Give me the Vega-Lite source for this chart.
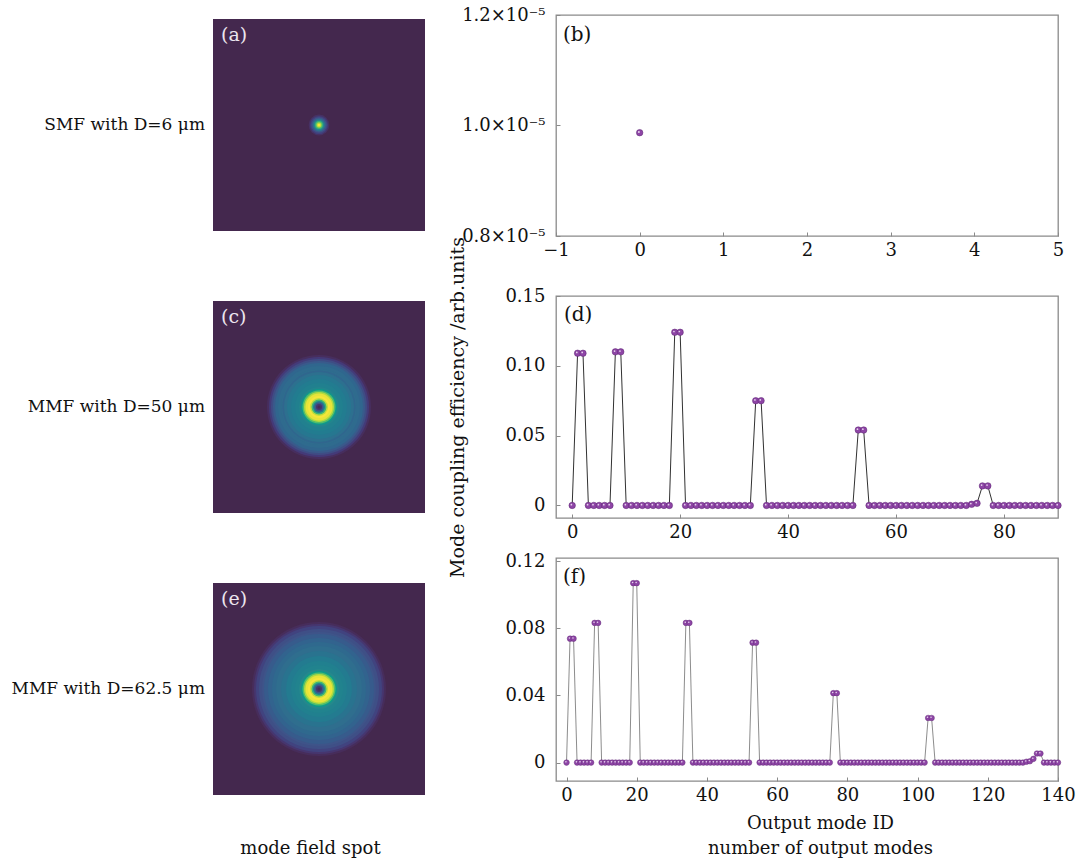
{
  "$schema": "https://vega.github.io/schema/vega-lite/v6.json",
  "background": "white",
  "padding": {"left": 11, "top": 5, "right": 5, "bottom": 5},
  "columns": 2,
  "bounds": "flush",
  "align": "each",
  "spacing": {"row": 40, "column": 131},
  "config": {
    "font": "DejaVu Serif",
    "view": {"stroke": "#8a8a8a", "strokeWidth": 1.3},
    "axis": {"labelFont": "DejaVu Serif", "labelFontSize": 18, "labelColor": "#111111", "titleFont": "DejaVu Serif", "titleFontSize": 19, "titleFontWeight": "normal", "titleColor": "#111111", "grid": false, "domain": false, "tickColor": "#8a8a8a", "tickSize": -4, "tickWidth": 1, "labelFlush": false, "labelOverlap": false},
    "axisX": {"labelPadding": 9},
    "axisY": {"labelPadding": 15},
    "text": {"font": "DejaVu Serif"}
  },
  "datasets": {
    "rings": [
      {"img": "a", "r": 0.098, "v": 0.08}, {"img": "a", "r": 0.086, "v": 0.18}, {"img": "a", "r": 0.074, "v": 0.3}, {"img": "a", "r": 0.061, "v": 0.45}, {"img": "a", "r": 0.049, "v": 0.6}, {"img": "a", "r": 0.037, "v": 0.75}, {"img": "a", "r": 0.025, "v": 0.88}, {"img": "a", "r": 0.015, "v": 1.0},
      {"img": "c", "r": 0.4906, "v": 0.06}, {"img": "c", "r": 0.4717, "v": 0.15}, {"img": "c", "r": 0.4528, "v": 0.25}, {"img": "c", "r": 0.434, "v": 0.33}, {"img": "c", "r": 0.4151, "v": 0.4}, {"img": "c", "r": 0.3868, "v": 0.43}, {"img": "c", "r": 0.3585, "v": 0.44}, {"img": "c", "r": 0.3443, "v": 0.4}, {"img": "c", "r": 0.3302, "v": 0.46}, {"img": "c", "r": 0.3019, "v": 0.5}, {"img": "c", "r": 0.2642, "v": 0.53}, {"img": "c", "r": 0.2264, "v": 0.55}, {"img": "c", "r": 0.1887, "v": 0.58}, {"img": "c", "r": 0.1698, "v": 0.65}, {"img": "c", "r": 0.1557, "v": 0.78}, {"img": "c", "r": 0.1415, "v": 0.9}, {"img": "c", "r": 0.1274, "v": 0.98}, {"img": "c", "r": 0.1038, "v": 1.0}, {"img": "c", "r": 0.0849, "v": 0.92}, {"img": "c", "r": 0.0708, "v": 0.75}, {"img": "c", "r": 0.0566, "v": 0.55}, {"img": "c", "r": 0.0425, "v": 0.3}, {"img": "c", "r": 0.0283, "v": 0.12}, {"img": "c", "r": 0.0142, "v": 0.03},
      {"img": "e", "r": 0.6321, "v": 0.05}, {"img": "e", "r": 0.6132, "v": 0.12}, {"img": "e", "r": 0.5943, "v": 0.2}, {"img": "e", "r": 0.566, "v": 0.27}, {"img": "e", "r": 0.5377, "v": 0.3}, {"img": "e", "r": 0.5189, "v": 0.34}, {"img": "e", "r": 0.4811, "v": 0.38}, {"img": "e", "r": 0.4434, "v": 0.42}, {"img": "e", "r": 0.4057, "v": 0.45}, {"img": "e", "r": 0.3585, "v": 0.48}, {"img": "e", "r": 0.3113, "v": 0.52}, {"img": "e", "r": 0.2642, "v": 0.55}, {"img": "e", "r": 0.2264, "v": 0.57}, {"img": "e", "r": 0.1887, "v": 0.6}, {"img": "e", "r": 0.1698, "v": 0.66}, {"img": "e", "r": 0.1557, "v": 0.78}, {"img": "e", "r": 0.1415, "v": 0.9}, {"img": "e", "r": 0.1274, "v": 0.98}, {"img": "e", "r": 0.1038, "v": 1.0}, {"img": "e", "r": 0.0849, "v": 0.92}, {"img": "e", "r": 0.0708, "v": 0.75}, {"img": "e", "r": 0.0566, "v": 0.55}, {"img": "e", "r": 0.0425, "v": 0.3}, {"img": "e", "r": 0.0283, "v": 0.12}, {"img": "e", "r": 0.0142, "v": 0.03}
    ],
    "b": [{"mode": 0, "eff": 0.00000987}],
    "d": [
      {"mode":0,"eff":0},{"mode":1,"eff":0.109},{"mode":2,"eff":0.109},{"mode":3,"eff":0},{"mode":4,"eff":0},{"mode":5,"eff":0},{"mode":6,"eff":0},{"mode":7,"eff":0},{"mode":8,"eff":0.110},{"mode":9,"eff":0.110},
      {"mode":10,"eff":0},{"mode":11,"eff":0},{"mode":12,"eff":0},{"mode":13,"eff":0},{"mode":14,"eff":0},{"mode":15,"eff":0},{"mode":16,"eff":0},{"mode":17,"eff":0},{"mode":18,"eff":0},{"mode":19,"eff":0.124},
      {"mode":20,"eff":0.124},{"mode":21,"eff":0},{"mode":22,"eff":0},{"mode":23,"eff":0},{"mode":24,"eff":0},{"mode":25,"eff":0},{"mode":26,"eff":0},{"mode":27,"eff":0},{"mode":28,"eff":0},{"mode":29,"eff":0},
      {"mode":30,"eff":0},{"mode":31,"eff":0},{"mode":32,"eff":0},{"mode":33,"eff":0},{"mode":34,"eff":0.075},{"mode":35,"eff":0.075},{"mode":36,"eff":0},{"mode":37,"eff":0},{"mode":38,"eff":0},{"mode":39,"eff":0},
      {"mode":40,"eff":0},{"mode":41,"eff":0},{"mode":42,"eff":0},{"mode":43,"eff":0},{"mode":44,"eff":0},{"mode":45,"eff":0},{"mode":46,"eff":0},{"mode":47,"eff":0},{"mode":48,"eff":0},{"mode":49,"eff":0},
      {"mode":50,"eff":0},{"mode":51,"eff":0},{"mode":52,"eff":0},{"mode":53,"eff":0.054},{"mode":54,"eff":0.054},{"mode":55,"eff":0},{"mode":56,"eff":0},{"mode":57,"eff":0},{"mode":58,"eff":0},{"mode":59,"eff":0},
      {"mode":60,"eff":0},{"mode":61,"eff":0},{"mode":62,"eff":0},{"mode":63,"eff":0},{"mode":64,"eff":0},{"mode":65,"eff":0},{"mode":66,"eff":0},{"mode":67,"eff":0},{"mode":68,"eff":0},{"mode":69,"eff":0},
      {"mode":70,"eff":0},{"mode":71,"eff":0},{"mode":72,"eff":0},{"mode":73,"eff":0},{"mode":74,"eff":0.0008},{"mode":75,"eff":0.0015},{"mode":76,"eff":0.014},{"mode":77,"eff":0.014},{"mode":78,"eff":0},{"mode":79,"eff":0},
      {"mode":80,"eff":0},{"mode":81,"eff":0},{"mode":82,"eff":0},{"mode":83,"eff":0},{"mode":84,"eff":0},{"mode":85,"eff":0},{"mode":86,"eff":0},{"mode":87,"eff":0},{"mode":88,"eff":0},{"mode":89,"eff":0},
      {"mode":90,"eff":0}
    ],
    "f": [
      {"mode":0,"eff":0},{"mode":1,"eff":0.0739},{"mode":2,"eff":0.0739},{"mode":3,"eff":0},{"mode":4,"eff":0},{"mode":5,"eff":0},{"mode":6,"eff":0},{"mode":7,"eff":0},{"mode":8,"eff":0.0833},{"mode":9,"eff":0.0833},
      {"mode":10,"eff":0},{"mode":11,"eff":0},{"mode":12,"eff":0},{"mode":13,"eff":0},{"mode":14,"eff":0},{"mode":15,"eff":0},{"mode":16,"eff":0},{"mode":17,"eff":0},{"mode":18,"eff":0},{"mode":19,"eff":0.107},
      {"mode":20,"eff":0.107},{"mode":21,"eff":0},{"mode":22,"eff":0},{"mode":23,"eff":0},{"mode":24,"eff":0},{"mode":25,"eff":0},{"mode":26,"eff":0},{"mode":27,"eff":0},{"mode":28,"eff":0},{"mode":29,"eff":0},
      {"mode":30,"eff":0},{"mode":31,"eff":0},{"mode":32,"eff":0},{"mode":33,"eff":0},{"mode":34,"eff":0.0833},{"mode":35,"eff":0.0833},{"mode":36,"eff":0},{"mode":37,"eff":0},{"mode":38,"eff":0},{"mode":39,"eff":0},
      {"mode":40,"eff":0},{"mode":41,"eff":0},{"mode":42,"eff":0},{"mode":43,"eff":0},{"mode":44,"eff":0},{"mode":45,"eff":0},{"mode":46,"eff":0},{"mode":47,"eff":0},{"mode":48,"eff":0},{"mode":49,"eff":0},
      {"mode":50,"eff":0},{"mode":51,"eff":0},{"mode":52,"eff":0},{"mode":53,"eff":0.0715},{"mode":54,"eff":0.0715},{"mode":55,"eff":0},{"mode":56,"eff":0},{"mode":57,"eff":0},{"mode":58,"eff":0},{"mode":59,"eff":0},
      {"mode":60,"eff":0},{"mode":61,"eff":0},{"mode":62,"eff":0},{"mode":63,"eff":0},{"mode":64,"eff":0},{"mode":65,"eff":0},{"mode":66,"eff":0},{"mode":67,"eff":0},{"mode":68,"eff":0},{"mode":69,"eff":0},
      {"mode":70,"eff":0},{"mode":71,"eff":0},{"mode":72,"eff":0},{"mode":73,"eff":0},{"mode":74,"eff":0},{"mode":75,"eff":0},{"mode":76,"eff":0.0414},{"mode":77,"eff":0.0414},{"mode":78,"eff":0},{"mode":79,"eff":0},
      {"mode":80,"eff":0},{"mode":81,"eff":0},{"mode":82,"eff":0},{"mode":83,"eff":0},{"mode":84,"eff":0},{"mode":85,"eff":0},{"mode":86,"eff":0},{"mode":87,"eff":0},{"mode":88,"eff":0},{"mode":89,"eff":0},
      {"mode":90,"eff":0},{"mode":91,"eff":0},{"mode":92,"eff":0},{"mode":93,"eff":0},{"mode":94,"eff":0},{"mode":95,"eff":0},{"mode":96,"eff":0},{"mode":97,"eff":0},{"mode":98,"eff":0},{"mode":99,"eff":0},
      {"mode":100,"eff":0},{"mode":101,"eff":0},{"mode":102,"eff":0},{"mode":103,"eff":0.0266},{"mode":104,"eff":0.0266},{"mode":105,"eff":0},{"mode":106,"eff":0},{"mode":107,"eff":0},{"mode":108,"eff":0},{"mode":109,"eff":0},
      {"mode":110,"eff":0},{"mode":111,"eff":0},{"mode":112,"eff":0},{"mode":113,"eff":0},{"mode":114,"eff":0},{"mode":115,"eff":0},{"mode":116,"eff":0},{"mode":117,"eff":0},{"mode":118,"eff":0},{"mode":119,"eff":0},
      {"mode":120,"eff":0},{"mode":121,"eff":0},{"mode":122,"eff":0},{"mode":123,"eff":0},{"mode":124,"eff":0},{"mode":125,"eff":0},{"mode":126,"eff":0},{"mode":127,"eff":0},{"mode":128,"eff":0},{"mode":129,"eff":0},
      {"mode":130,"eff":0},{"mode":131,"eff":0.0005},{"mode":132,"eff":0.0008},{"mode":133,"eff":0.0022},{"mode":134,"eff":0.0054},{"mode":135,"eff":0.0054},{"mode":136,"eff":0},{"mode":137,"eff":0},{"mode":138,"eff":0},{"mode":139,"eff":0},
      {"mode":140,"eff":0}
    ]
  },
  "concat": [
    {
      "width": 212, "height": 241,
      "view": {"stroke": null},
      "layer": [
        {"data": {"values": [{}]}, "mark": {"type": "rect", "fill": "#44284e"},
         "encoding": {
           "x": {"datum": -1, "type": "quantitative", "scale": {"domain": [-1, 1], "nice": false, "zero": false}, "axis": null},
           "x2": {"datum": 1},
           "y": {"datum": -1, "type": "quantitative", "scale": {"domain": [-1.2358, 1.0377], "nice": false, "zero": false}, "axis": null},
           "y2": {"datum": 1}}},
        {"data": {"name": "rings"}, "transform": [{"filter": "datum.img == 'a'"}],
         "mark": {"type": "circle", "opacity": 1, "strokeWidth": 0},
         "encoding": {
           "x": {"datum": 0, "type": "quantitative"},
           "y": {"datum": 0, "type": "quantitative"},
           "size": {"field": "r", "type": "quantitative", "scale": {"type": "pow", "exponent": 2, "domain": [0, 1], "range": [0, 44944]}, "legend": null},
           "color": {"field": "v", "type": "quantitative", "scale": {"domain": [0, 0.15, 0.3, 0.45, 0.6, 0.75, 0.88, 1], "range": ["#44284e", "#443a78", "#3e5489", "#2f6e8e", "#25888c", "#3fb574", "#a2d743", "#f6e63a"]}, "legend": null},
           "order": {"field": "r", "sort": "descending"}}},
        {"data": {"values": [{}]}, "mark": {"type": "text", "align": "left", "baseline": "top", "dx": 8, "dy": 7, "fontSize": 19, "color": "#ece6ee"},
         "encoding": {"x": {"datum": -1, "type": "quantitative"}, "y": {"datum": 1, "type": "quantitative"}, "text": {"value": "(a)"}}},
        {"data": {"values": [{}]}, "mark": {"type": "text", "align": "right", "baseline": "middle", "dx": -8, "fontSize": 17, "color": "#111111"},
         "encoding": {"x": {"datum": -1, "type": "quantitative"}, "y": {"datum": 0, "type": "quantitative"}, "text": {"value": "SMF with D=6 μm"}}}
      ]
    },
    {
      "width": 502, "height": 221,
      "layer": [
        {"data": {"name": "b"}, "mark": {"type": "circle", "size": 42, "opacity": 1, "fill": "#8e45a6", "stroke": "#5a2570", "strokeWidth": 0.5},
         "encoding": {
           "x": {"field": "mode", "type": "quantitative", "scale": {"domain": [-1, 5], "nice": false, "zero": false}, "axis": {"values": [-1, 0, 1, 2, 3, 4, 5], "format": "d", "title": null}},
           "y": {"field": "eff", "type": "quantitative", "scale": {"domain": [0.000008, 0.000012], "nice": false, "zero": false}, "axis": {"values": [0.000008, 0.00001, 0.000012], "labelExpr": "format(datum.value * 100000, '.1f') + '×10⁻⁵'", "title": null}}}},
        {"data": {"name": "b"}, "mark": {"type": "circle", "size": 4, "opacity": 0.9, "fill": "#f0e2f4", "strokeWidth": 0, "xOffset": -0.8, "yOffset": -0.8},
         "encoding": {"x": {"field": "mode", "type": "quantitative"}, "y": {"field": "eff", "type": "quantitative"}}},
        {"data": {"values": [{}]}, "mark": {"type": "text", "align": "left", "baseline": "top", "dx": 7, "dy": 10, "fontSize": 20, "color": "#111111"},
         "encoding": {"x": {"datum": -1, "type": "quantitative"}, "y": {"datum": 0.000012, "type": "quantitative"}, "text": {"value": "(b)"}}}
      ]
    },
    {
      "width": 212, "height": 222,
      "view": {"stroke": null},
      "layer": [
        {"data": {"values": [{}]}, "mark": {"type": "rect", "fill": "#44284e"},
         "encoding": {
           "x": {"datum": -1, "type": "quantitative", "scale": {"domain": [-1, 1], "nice": false, "zero": false}, "axis": null},
           "x2": {"datum": 1},
           "y": {"datum": -1, "type": "quantitative", "scale": {"domain": [-1.0472, 1.0472], "nice": false, "zero": false}, "axis": null},
           "y2": {"datum": 1}}},
        {"data": {"name": "rings"}, "transform": [{"filter": "datum.img == 'c'"}],
         "mark": {"type": "circle", "opacity": 1, "strokeWidth": 0},
         "encoding": {
           "x": {"datum": 0, "type": "quantitative"},
           "y": {"datum": 0, "type": "quantitative"},
           "size": {"field": "r", "type": "quantitative", "scale": {"type": "pow", "exponent": 2, "domain": [0, 1], "range": [0, 44944]}, "legend": null},
           "color": {"field": "v", "type": "quantitative", "scale": {"domain": [0, 0.15, 0.3, 0.45, 0.6, 0.75, 0.88, 1], "range": ["#44284e", "#443a78", "#3e5489", "#2f6e8e", "#25888c", "#3fb574", "#a2d743", "#f6e63a"]}, "legend": null},
           "order": {"field": "r", "sort": "descending"}}},
        {"data": {"values": [{}]}, "mark": {"type": "text", "align": "left", "baseline": "top", "dx": 8, "dy": 7, "fontSize": 19, "color": "#ece6ee"},
         "encoding": {"x": {"datum": -1, "type": "quantitative"}, "y": {"datum": 1, "type": "quantitative"}, "text": {"value": "(c)"}}},
        {"data": {"values": [{}]}, "mark": {"type": "text", "align": "right", "baseline": "middle", "dx": -8, "fontSize": 17, "color": "#111111"},
         "encoding": {"x": {"datum": -1, "type": "quantitative"}, "y": {"datum": 0, "type": "quantitative"}, "text": {"value": "MMF with D=50 μm"}}}
      ]
    },
    {
      "width": 502, "height": 222,
      "layer": [
        {"data": {"name": "d"}, "mark": {"type": "line", "color": "#1a1a1a", "strokeWidth": 0.9},
         "encoding": {
           "x": {"field": "mode", "type": "quantitative", "scale": {"domain": [-3, 90], "nice": false, "zero": false}, "axis": {"values": [0, 20, 40, 60, 80], "title": null}},
           "y": {"field": "eff", "type": "quantitative", "scale": {"domain": [-0.009, 0.15], "nice": false, "zero": false}, "axis": {"values": [0, 0.05, 0.1, 0.15], "labelExpr": "datum.value == 0 ? '0' : format(datum.value, '.2f')", "title": "Mode coupling efficiency /arb.units", "titlePadding": 37}}}},
        {"data": {"name": "d"}, "mark": {"type": "circle", "size": 42, "opacity": 1, "fill": "#8e45a6", "stroke": "#5a2570", "strokeWidth": 0.5},
         "encoding": {"x": {"field": "mode", "type": "quantitative"}, "y": {"field": "eff", "type": "quantitative"}}},
        {"data": {"name": "d"}, "mark": {"type": "circle", "size": 3, "opacity": 0.9, "fill": "#f0e2f4", "strokeWidth": 0, "xOffset": -0.8, "yOffset": -0.8},
         "encoding": {"x": {"field": "mode", "type": "quantitative"}, "y": {"field": "eff", "type": "quantitative"}}},
        {"data": {"values": [{}]}, "mark": {"type": "text", "align": "left", "baseline": "top", "dx": 8, "dy": 9, "fontSize": 20, "color": "#111111"},
         "encoding": {"x": {"datum": -3, "type": "quantitative"}, "y": {"datum": 0.15, "type": "quantitative"}, "text": {"value": "(d)"}}}
      ]
    },
    {
      "width": 212, "height": 237,
      "view": {"stroke": null},
      "layer": [
        {"data": {"values": [{}]}, "mark": {"type": "rect", "fill": "#44284e"},
         "encoding": {
           "x": {"datum": -1, "type": "quantitative", "scale": {"domain": [-1, 1], "nice": false, "zero": false}, "axis": {"title": "mode field spot", "labels": false, "ticks": false, "domain": false, "titlePadding": 44, "titleX": 97, "titleFontSize": 18}},
           "x2": {"datum": 1},
           "y": {"datum": -1, "type": "quantitative", "scale": {"domain": [-1, 1.2358], "nice": false, "zero": false}, "axis": null},
           "y2": {"datum": 1}}},
        {"data": {"name": "rings"}, "transform": [{"filter": "datum.img == 'e'"}],
         "mark": {"type": "circle", "opacity": 1, "strokeWidth": 0},
         "encoding": {
           "x": {"datum": 0, "type": "quantitative"},
           "y": {"datum": 0, "type": "quantitative"},
           "size": {"field": "r", "type": "quantitative", "scale": {"type": "pow", "exponent": 2, "domain": [0, 1], "range": [0, 44944]}, "legend": null},
           "color": {"field": "v", "type": "quantitative", "scale": {"domain": [0, 0.15, 0.3, 0.45, 0.6, 0.75, 0.88, 1], "range": ["#44284e", "#443a78", "#3e5489", "#2f6e8e", "#25888c", "#3fb574", "#a2d743", "#f6e63a"]}, "legend": null},
           "order": {"field": "r", "sort": "descending"}}},
        {"data": {"values": [{}]}, "mark": {"type": "text", "align": "left", "baseline": "top", "dx": 8, "dy": 7, "fontSize": 19, "color": "#ece6ee"},
         "encoding": {"x": {"datum": -1, "type": "quantitative"}, "y": {"datum": 1, "type": "quantitative"}, "text": {"value": "(e)"}}},
        {"data": {"values": [{}]}, "mark": {"type": "text", "align": "right", "baseline": "middle", "dx": -8, "fontSize": 17, "color": "#111111"},
         "encoding": {"x": {"datum": -1, "type": "quantitative"}, "y": {"datum": 0, "type": "quantitative"}, "text": {"value": "MMF with D=62.5 μm"}}}
      ]
    },
    {
      "width": 502, "height": 223,
      "layer": [
        {"data": {"name": "f"}, "mark": {"type": "line", "color": "#6e6e6e", "strokeWidth": 0.8},
         "encoding": {
           "x": {"field": "mode", "type": "quantitative", "scale": {"domain": [-3, 140], "nice": false, "zero": false}, "axis": {"values": [0, 20, 40, 60, 80, 100, 120, 140], "title": ["Output mode ID", "number of output modes"], "titlePadding": 10, "titleLineHeight": 25, "titleX": 264, "titleFontSize": 18}},
           "y": {"field": "eff", "type": "quantitative", "scale": {"domain": [-0.011, 0.122], "nice": false, "zero": false}, "axis": {"values": [0, 0.04, 0.08, 0.12], "labelExpr": "datum.value == 0 ? '0' : format(datum.value, '.2f')", "title": null}}}},
        {"data": {"name": "f"}, "mark": {"type": "circle", "size": 32, "opacity": 1, "fill": "#8e45a6", "stroke": "#5a2570", "strokeWidth": 0.4},
         "encoding": {"x": {"field": "mode", "type": "quantitative"}, "y": {"field": "eff", "type": "quantitative"}}},
        {"data": {"name": "f"}, "mark": {"type": "circle", "size": 2.5, "opacity": 0.9, "fill": "#f0e2f4", "strokeWidth": 0, "xOffset": -0.6, "yOffset": -0.7},
         "encoding": {"x": {"field": "mode", "type": "quantitative"}, "y": {"field": "eff", "type": "quantitative"}}},
        {"data": {"values": [{}]}, "mark": {"type": "text", "align": "left", "baseline": "top", "dx": 7, "dy": 9, "fontSize": 20, "color": "#111111"},
         "encoding": {"x": {"datum": -3, "type": "quantitative"}, "y": {"datum": 0.122, "type": "quantitative"}, "text": {"value": "(f)"}}}
      ]
    }
  ]
}
